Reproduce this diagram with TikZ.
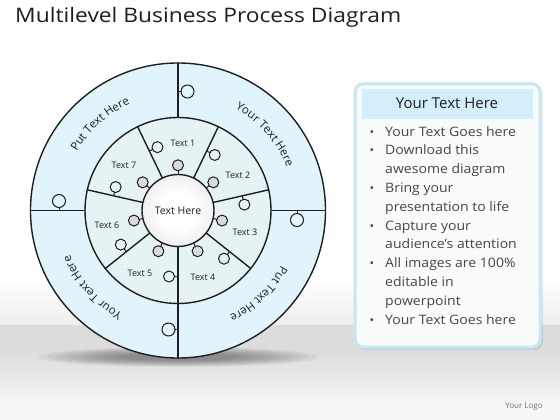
\documentclass[tikz,border=0pt]{standalone}
\usepackage{fontspec}
\setmainfont{Open Sans}
\usetikzlibrary{calc,decorations.text}
\definecolor{ringout}{RGB}{225,244,251}
\definecolor{ringmid}{RGB}{230,243,245}
\definecolor{inkc}{RGB}{30,30,30}
\definecolor{knobgray}{RGB}{218,218,218}
\definecolor{innerg}{RGB}{210,210,210}
\definecolor{floorg}{RGB}{220,220,220}
\definecolor{panelb}{RGB}{198,231,244}
\definecolor{panelh}{RGB}{211,239,250}
\definecolor{panelf}{RGB}{248,250,251}
\definecolor{bodytxt}{RGB}{70,70,70}
\pgfdeclareradialshading{hubshade}{\pgfpoint{0bp}{0bp}}{color(0bp)=(white); color(12bp)=(white); color(50bp)=(innerg)}
\tikzset{
  ringline/.style={draw=inkc, line width=1.4pt},
  thinline/.style={draw=inkc, line width=1pt},
  seglabel/.style={font=\fontsize{9}{10}\selectfont, text=inkc, inner sep=0pt},
  bodyline/.style={anchor=base west, font=\fontsize{13}{15}\selectfont, text=bodytxt, inner sep=0pt, xscale=1.08},
  bulletdot/.style={anchor=base, font=\fontsize{12}{14}\selectfont, text=bodytxt, inner sep=0pt},
  ringtext/.style={decorate, decoration={text along path, text align=center, text color=inkc, text={|\ringfont|#1}}}
}
\newcommand{\ringfont}{\fontsize{11.5}{13}\selectfont}
\begin{document}
\begin{tikzpicture}[x=1pt,y=1pt,line join=round,line cap=round]
\useasboundingbox (0,0) rectangle (560,-420);
\fill[white] (0,0) rectangle (560,-420);
% floor
\shade[top color=white, bottom color=white!93!black] (0,-280) rectangle (560,-325);
\fill[floorg] (0,-325) rectangle (560,-352);
\shade[top color=floorg, bottom color=white!97!black] (0,-352) rectangle (560,-405);
\fill[white!97!black] (0,-405) rectangle (560,-420);
% shadow under wheel
\foreach \i in {0,...,9}
  \fill[black,opacity=0.045] (178,-357) ellipse[x radius={140-\i*9}, y radius={10-\i*0.7}];
% title
\node[anchor=base west, font=\fontsize{20}{24}\selectfont, text=inkc, inner sep=0pt, xscale=1.14] (title) at (15,-23) {Multilevel Business Process Diagram};
% wheel
\coordinate (C) at (178,-210.5);
\draw[ringline, fill=ringout] (C) circle[radius=147.5];
\draw[ringline, fill=ringmid] (C) circle[radius=93];
\foreach \a in {90,0,-90,180} {
  \draw[ringline] ($(C)+(\a:93)$) -- ($(C)+(\a:147.5)$);
  \draw[thinline] ($(C)+(\a:119)$) -- ($(C)+(\a:119)+(\a-90:3)$);
  \draw[thinline] ($(C)+(\a:119)+(\a-90:9.5)$) circle[radius=6.5];
}
\foreach \k in {0,...,6} {
  \pgfmathsetmacro{\a}{-90+\k*360/7}
  \pgfmathsetmacro{\b}{\a+180/7}
  \draw[ringline] ($(C)+(\a:36)$) -- ($(C)+(\a:93)$);
  \draw[thinline] ($(C)+(\a:66)$) -- ($(C)+(\a:66)+(\a-90:3.5)$);
  \draw[thinline] ($(C)+(\a:66)+(\a-90:9)$) circle[radius=5.5];
  \draw[thinline] ($(C)+(\b:36)$) -- ($(C)+(\b:39.7)$);
  \draw[thinline, fill=knobgray] ($(C)+(\b:45.2)$) circle[radius=5.5];
}
\shade[shading=hubshade] (C) circle[radius=36];
\draw[ringline] (C) circle[radius=36];
\node[font=\fontsize{10.5}{12}\selectfont, text=inkc] (hub) at (C) {Text Here};
% segment labels
\node[seglabel] (t1) at (183,-143) {Text 1};
\node[seglabel] (t2) at (238,-175) {Text 2};
\node[seglabel] (t3) at (245,-232) {Text 3};
\node[seglabel] (t4) at (203,-277) {Text 4};
\node[seglabel] (t5) at (140,-273) {Text 5};
\node[seglabel] (t6) at (107,-225) {Text 6};
\node[seglabel] (t7) at (124,-165) {Text 7};
% ring texts
\path[ringtext={Put Text Here}] ($(C)+(167:117)$) arc[start angle=167, end angle=97, radius=117];
\path[ringtext={Your Text Here}] ($(C)+(76:117)$) arc[start angle=76, end angle=6, radius=117];
\path[ringtext={Put Text Here}] ($(C)+(-11:117)$) arc[start angle=-11, end angle=-81, radius=117];
\path[ringtext={Your Text Here}] ($(C)+(-103:117)$) arc[start angle=-103, end angle=-173, radius=117];
% panel
\fill[black, opacity=0.08, rounded corners=8] (357,-86) rectangle (543,-350);
\draw[panelb, line width=3pt, fill=panelf, rounded corners=8] (355,-84) rectangle (540,-347);
\fill[panelh] (362,-89) rectangle (533,-119);
\node[font=\fontsize{15}{17}\selectfont, text=inkc] (hdr) at (447,-103) {Your Text Here};
\node[bulletdot] (b1) at (372,-136) {\textbullet};
\node[bodyline] (l1) at (385,-136) {Your Text Goes here};
\node[bulletdot] (b2) at (372,-154.8) {\textbullet};
\node[bodyline] (l2) at (385,-154.8) {Download this};
\node[bodyline] (l3) at (385,-173.6) {awesome diagram};
\node[bulletdot] (b3) at (372,-192.4) {\textbullet};
\node[bodyline] (l4) at (385,-192.4) {Bring your};
\node[bodyline] (l5) at (385,-211.2) {presentation to life};
\node[bulletdot] (b4) at (372,-230) {\textbullet};
\node[bodyline] (l6) at (385,-230) {Capture your};
\node[bodyline] (l7) at (385,-248.8) {audience’s attention};
\node[bulletdot] (b5) at (372,-267.6) {\textbullet};
\node[bodyline] (l8) at (385,-267.6) {All images are 100\%};
\node[bodyline] (l9) at (385,-286.4) {editable in};
\node[bodyline] (l10) at (385,-305.2) {powerpoint};
\node[bulletdot] (b6) at (372,-324) {\textbullet};
\node[bodyline] (l11) at (385,-324) {Your Text Goes here};
% logo
\node[font=\fontsize{8}{9}\selectfont, text=black!55] (logo) at (524,-407) {Your Logo};
\end{tikzpicture}
\end{document}
